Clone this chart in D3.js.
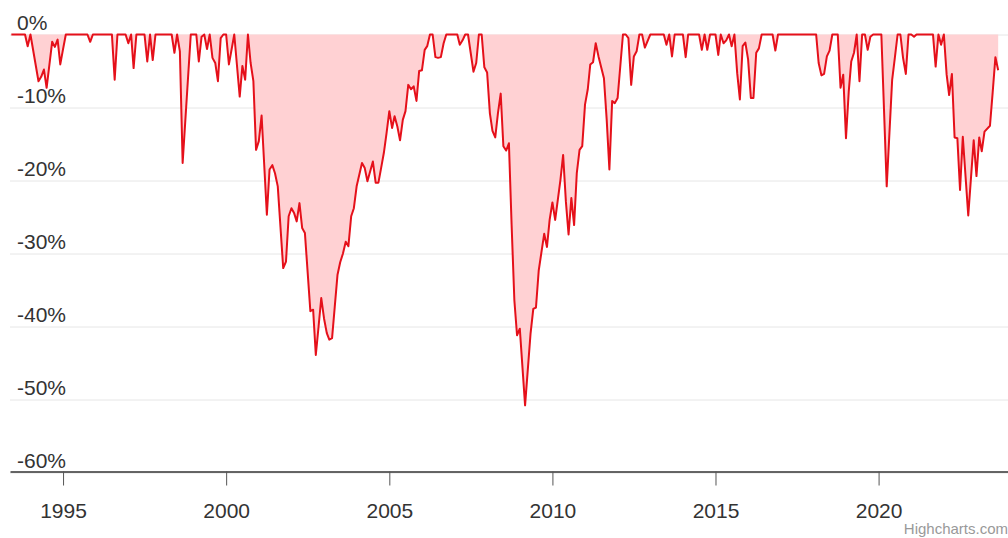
<!DOCTYPE html>
<html>
<head>
<meta charset="utf-8">
<script src="https://d3js.org/d3.v7.min.js"></script>
<style>
body { margin: 0; background: #fff; }
svg { display: block; font-family: "Liberation Sans", Arial, sans-serif; }
</style>
</head>
<body>
<div id="chart"></div>
<script>

// monthly drawdown (only the turning points)
const months = [
  "1993-06","1993-11","1993-12","1994-01","1994-04","1994-05","1994-06","1994-07","1994-09","1994-10",
  "1994-11","1994-12","1995-01","1995-02","1995-10","1995-11","1995-12","1996-07","1996-08","1996-09",
  "1996-12","1997-01","1997-02","1997-03","1997-04","1997-07","1997-08","1997-09","1997-10","1997-11",
  "1998-05","1998-06","1998-07","1998-08","1998-09","1998-12","1999-01","1999-02","1999-03","1999-04",
  "1999-05","1999-06","1999-07","1999-08","1999-09","1999-10","1999-11","1999-12","2000-01","2000-02",
  "2000-04","2000-06","2000-07","2000-08","2000-09","2000-10","2000-11","2000-12","2001-01","2001-02",
  "2001-04","2001-05","2001-06","2001-07","2001-08","2001-10","2001-11","2001-12","2002-01","2002-02",
  "2002-03","2002-04","2002-05","2002-06","2002-08","2002-09","2002-10","2002-11","2002-12","2003-01",
  "2003-02","2003-03","2003-04","2003-05","2003-06","2003-07","2003-08","2003-09","2003-10","2003-11",
  "2003-12","2004-01","2004-03","2004-04","2004-05","2004-07","2004-08","2004-09","2004-10","2004-11",
  "2004-12","2005-01","2005-02","2005-03","2005-04","2005-05","2005-06","2005-07","2005-08","2005-09",
  "2005-10","2005-11","2005-12","2006-01","2006-02","2006-03","2006-04","2006-05","2006-06","2006-07",
  "2006-08","2006-09","2006-10","2007-02","2007-03","2007-04","2007-05","2007-06","2007-07","2007-08",
  "2007-09","2007-10","2007-11","2007-12","2008-01","2008-02","2008-03","2008-04","2008-05","2008-06",
  "2008-07","2008-08","2008-09","2008-10","2008-11","2008-12","2009-01","2009-03","2009-05","2009-06",
  "2009-07","2009-08","2009-10","2009-11","2009-12","2010-01","2010-02","2010-04","2010-05","2010-06",
  "2010-07","2010-08","2010-09","2010-10","2010-11","2010-12","2011-01","2011-02","2011-03","2011-04",
  "2011-05","2011-06","2011-08","2011-09","2011-10","2011-11","2011-12","2012-01","2012-03","2012-04",
  "2012-05","2012-06","2012-07","2012-08","2012-09","2012-10","2012-11","2013-01","2013-06","2013-07",
  "2013-08","2013-09","2013-10","2014-01","2014-02","2014-03","2014-07","2014-08","2014-09","2014-10",
  "2014-11","2015-01","2015-02","2015-03","2015-04","2015-05","2015-06","2015-07","2015-08","2015-09",
  "2015-10","2015-11","2015-12","2016-01","2016-02","2016-03","2016-04","2016-05","2016-06","2016-10",
  "2016-11","2016-12","2018-02","2018-03","2018-04","2018-05","2018-06","2018-07","2018-08","2018-10",
  "2018-11","2018-12","2019-01","2019-02","2019-03","2019-04","2019-05","2019-06","2019-07","2019-08",
  "2019-09","2019-10","2019-11","2020-02","2020-04","2020-06","2020-07","2020-08","2020-09","2020-10",
  "2020-11","2020-12","2021-01","2021-02","2021-03","2021-09","2021-10","2021-11","2021-12","2022-01",
  "2022-02","2022-03","2022-04","2022-05","2022-06","2022-07","2022-08","2022-10","2022-12","2023-01",
  "2023-02","2023-03","2023-04","2023-06","2023-07","2023-08","2023-09"
];
const drawdown = [
  0, 0, -1.6, 0, -6.4, -5.8, -4.8, -7.3, -1, -1.7,
  -0.7, -4.1, -2, 0, 0, -1, 0, 0, -6.2, 0,
  0, -1.2, 0, -4.6, 0, 0, -3.7, 0, -3.5, 0,
  0, -2.5, 0, -2.3, -17.6, 0, 0, 0, -3.7, -0.3,
  0, -2, 0, -3.2, -3.9, -6.4, -0.5, 0, 0, -4.1,
  0, -8.5, -4.3, -6.2, 0, -3.9, -6.4, -15.8, -14.6, -11.1,
  -24.7, -18.5, -17.9, -19, -20.8, -32, -31.1, -24.9, -23.8, -24.5,
  -25.6, -23.1, -26.5, -27.2, -37.9, -37.7, -43.9, -40, -36.1, -38.9,
  -40.9, -41.8, -41.6, -37.3, -32.9, -31.2, -30, -28.4, -29, -24.9,
  -23.8, -20.8, -17.6, -18.3, -20.1, -17.4, -20.3, -20.3, -18.3, -16.2,
  -13.5, -10.5, -12.8, -11.2, -12.6, -14.5, -11.7, -10.5, -6.9, -7.5,
  -7.1, -9.1, -5, -4.9, -2.1, -1.6, 0, 0, -3.1, -3.2,
  -3.1, -1.2, 0, 0, -1.4, -0.8, 0, 0, -2.5, -5.1,
  -3.9, 0, 0, -4.5, -5.2, -10.8, -13.2, -14.1, -10.8, -8.1,
  -15.3, -15.9, -14.9, -26, -36.4, -41.2, -40.3, -50.8, -41, -37.6,
  -37.4, -32.3, -27.3, -29.1, -25.4, -23, -25.4, -19.9, -16.5, -22.9,
  -27.4, -22.4, -26.1, -19, -15.8, -15.3, -9.6, -7.5, -4.1, -3.8,
  -1.2, -3, -6, -11.7, -18.5, -9.1, -9.4, -8.7, 0, 0,
  -0.5, -6.9, -3, -2.3, 0, 0, -1.8, 0, 0, -1.4,
  0, -3, 0, 0, -3.1, 0, 0, -2.1, 0, -2.1,
  0, 0, -2.8, 0, -1.2, -0.8, 0, -1.6, 0, -5.3,
  -8.9, -1.6, -1.1, -3.4, -8.7, -8.7, -2.5, -1.9, 0, 0,
  -2.2, 0, 0, -3.9, -5.6, -5.4, -3, -2.2, 0, 0,
  -7.3, -5.5, -14.2, -7.8, -3.7, -2.5, 0, -6.4, 0, 0,
  -2.1, -0.3, 0, 0, -20.8, -6.2, -3.2, 0, 0, -3.2,
  -5.4, 0, 0, -0.3, 0, 0, -4.4, 0, -1.4, 0,
  -5.5, -8.3, -5.4, -14.1, -14.2, -21.3, -14, -24.8, -14.5, -19.4,
  -14.1, -16, -13.3, -12.5, -8, -3.1, -4.9
];

const yTicks = [0, -10, -20, -30, -40, -50, -60];
const xTickYears = [1995, 2000, 2005, 2010, 2015, 2020];

let width = 1008;
let height = 538;
let plotLeft = 10, plotRight = 1008;

let parseMonth = d3.timeParse("%Y-%m");

let data = months.map(function (m, i) {
  return { date: parseMonth(m), value: drawdown[i] };
});

let x = d3.scaleTime()
  .domain([new Date(1993, 4, 17), new Date(2023, 11, 20)])
  .range([plotLeft, plotRight]);

let y = d3.scaleLinear()
  .domain([-60, 0])
  .range([472.5, 34.5]);

let svg = d3.select("#chart")
  .append("svg")
  .attr("width", width)
  .attr("height", height);

svg.append("rect")
  .attr("width", width)
  .attr("height", height)
  .attr("fill", "#fff");

// grid + y labels
let yAxis = svg.append("g")
  .attr("transform", "translate(" + plotLeft + ",0)")
  .call(d3.axisLeft(y)
    .tickValues(yTicks)
    .tickSize(-(plotRight - plotLeft))
    .tickFormat(function (d) { return d + "%"; }));

yAxis.select(".domain").remove();
yAxis.selectAll(".tick line")
  .attr("stroke", "#e6e6e6")
  .attr("stroke-width", 1);
yAxis.selectAll(".tick text")
  .attr("x", 7)
  .attr("y", -5)
  .attr("dy", null)
  .attr("text-anchor", "start")
  .attr("fill", "#333")
  .style("font-size", "21px")
  .style("font-family", "'Liberation Sans', Arial, sans-serif");

// area + line
let area = d3.area()
  .x(d => x(d.date))
  .y0(y(0))
  .y1(d => y(d.value));

let line = d3.line()
  .x(d => x(d.date))
  .y(d => y(d.value));

svg.append("path")
  .datum(data)
  .attr("d", area)
  .attr("fill", "#ffd1d3");

svg.append("path")
  .datum(data)
  .attr("d", line)
  .attr("fill", "none")
  .attr("stroke", "#e5101a")
  .attr("stroke-width", 2)
  .attr("stroke-linejoin", "round");

// x axis
let xAxis = svg.append("g")
  .attr("transform", "translate(0,471.5)")
  .call(d3.axisBottom(x)
    .tickValues(xTickYears.map(yr => new Date(yr, 0, 1)))
    .tickSize(14)
    .tickSizeOuter(0)
    .tickFormat(d3.timeFormat("%Y")));

xAxis.select(".domain")
  .attr("stroke", "#333")
  .attr("stroke-width", 1.5);
xAxis.selectAll(".tick line")
  .attr("stroke", "#555")
  .attr("stroke-width", 1);
xAxis.selectAll(".tick text")
  .attr("y", 46)
  .attr("dy", null)
  .attr("fill", "#333")
  .style("font-size", "21px")
  .style("font-family", "'Liberation Sans', Arial, sans-serif");

// credits
svg.append("text")
  .attr("x", 1008)
  .attr("y", 534)
  .attr("text-anchor", "end")
  .attr("fill", "#999")
  .style("font-size", "15px")
  .text("Highcharts.com");

</script>
</body>
</html>
